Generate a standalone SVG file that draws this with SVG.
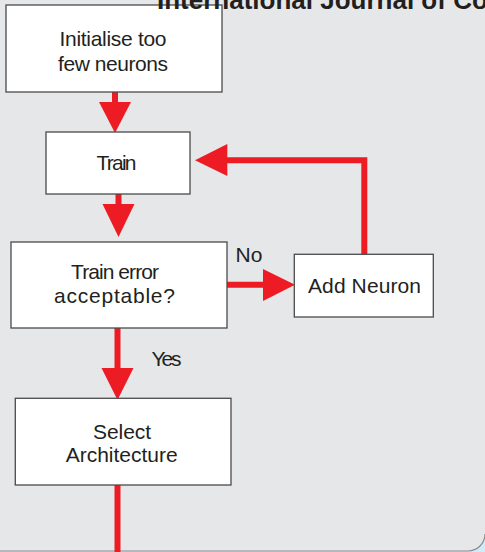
<svg xmlns="http://www.w3.org/2000/svg" width="485" height="552" viewBox="0 0 485 552">
<style>
.box{fill:#ffffff;stroke:#4a4a4a;stroke-width:1.3}
.lbl{font-family:"Liberation Sans",Arial,sans-serif;font-size:21px;fill:#231f20;text-anchor:middle}
.tag{font-family:"Liberation Sans",Arial,sans-serif;font-size:21px;fill:#231f20}
.line{fill:none;stroke:#ed1c24;stroke-width:6}
.head{fill:#ed1c24}
</style>
<rect x="0" y="0" width="485" height="552" fill="#cdebf8"/>
<path d="M-5,-5 H485 V534 A17,17 0 0 1 468,551 H-5 Z" fill="#e6e7e9"/>
<path d="M-5,551 H468 A17,17 0 0 0 485,534" fill="none" stroke="#8c8c8c" stroke-width="1.2"/>
<g id="connectors">
  <line class="line" x1="115" y1="92" x2="115" y2="104"/>
  <polygon class="head" points="99,102 131,102 115,133"/>
  <line class="line" x1="118.5" y1="194" x2="118.5" y2="206"/>
  <polygon class="head" points="102.5,204 134.5,204 118.5,237"/>
  <line class="line" x1="227" y1="284.7" x2="265" y2="284.7"/>
  <polygon class="head" points="263,269 263,301 295,284.7"/>
  <polyline class="line" points="364.3,254 364.3,160.3 225,160.3"/>
  <polygon class="head" points="227.3,144 227.3,176 195,160.3"/>
  <line class="line" x1="117.5" y1="328" x2="117.5" y2="370"/>
  <polygon class="head" points="101.5,368 133.5,368 117.5,400"/>
  <line class="line" x1="117.5" y1="485" x2="117.5" y2="552"/>
  <text class="tag" x="235.5" y="261.7" textLength="27">No</text>
  <text class="tag" x="151.5" y="366" textLength="30">Yes</text>
</g>
<g id="init">
  <rect class="box" x="6" y="5" width="216" height="87"/>
  <text class="lbl" x="113" y="46" textLength="107">Initialise too</text>
  <text class="lbl" x="113" y="71" textLength="110">few neurons</text>
</g>
<g id="train">
  <rect class="box" x="46" y="132" width="144" height="62"/>
  <text class="lbl" x="116.5" y="170" textLength="40">Train</text>
</g>
<g id="check">
  <rect class="box" x="11" y="242" width="216" height="86"/>
  <text class="lbl" x="115" y="279" textLength="88">Train error</text>
  <text class="lbl" x="114.5" y="302.7" textLength="121">acceptable?</text>
</g>
<g id="add">
  <rect class="box" x="294.3" y="254.3" width="139" height="62.7"/>
  <text class="lbl" x="364.5" y="293" textLength="113">Add Neuron</text>
</g>
<g id="select">
  <rect class="box" x="15.3" y="398.3" width="215.7" height="86.7"/>
  <text class="lbl" x="122" y="438.7" textLength="58">Select</text>
  <text class="lbl" x="121.7" y="462.3" textLength="112">Architecture</text>
</g>
<text x="157" y="9" font-family="'Liberation Sans',Arial,sans-serif" font-weight="bold" font-size="26" fill="#231f20">International Journal of Co</text>
</svg>
